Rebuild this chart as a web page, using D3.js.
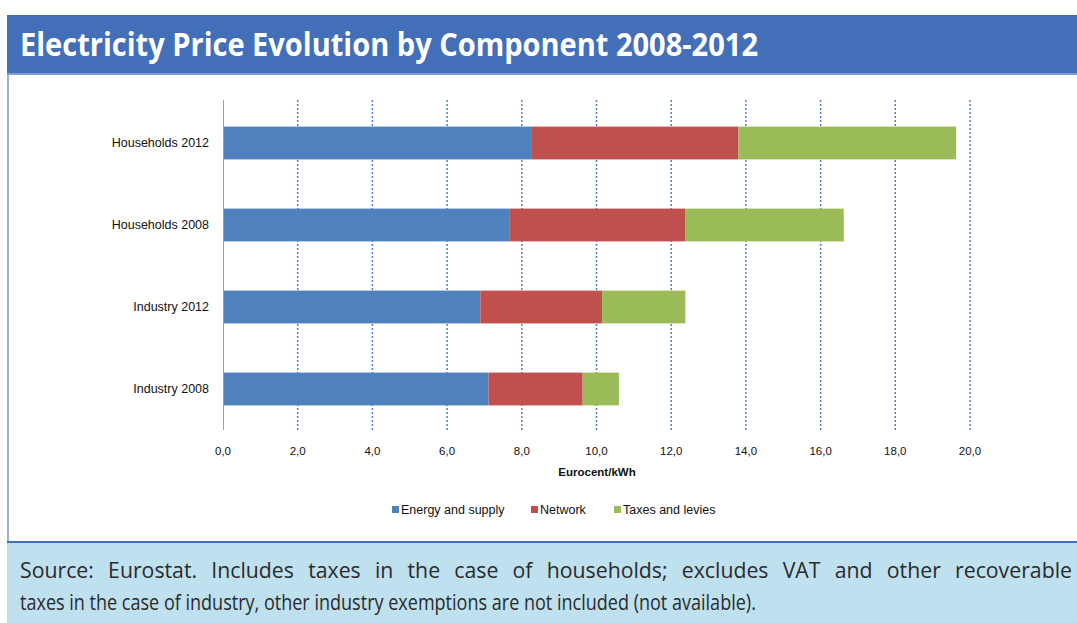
<!DOCTYPE html>
<html>
<head>
<meta charset="utf-8">
<script src="https://cdn.jsdelivr.net/npm/d3@7"></script>
<style>
  body { margin: 0; background: #fff; }
  svg { display: block; }
</style>
</head>
<body>
<script>
// values, Eurocent/kWh
const categories = ["Households 2012", "Households 2008", "Industry 2012", "Industry 2008"];
const seriesNames = ["Energy and supply", "Network", "Taxes and levies"];
const energy = [8.25, 7.68, 6.89, 7.11];
const network = [5.55, 4.69, 3.26, 2.52];
const taxes = [5.83, 4.25, 2.23, 0.97];
const tickValues = [0, 2, 4, 6, 8, 10, 12, 14, 16, 18, 20];
const colors = ["#4F81BD", "#C0504D", "#9BBB59"];

const W = 1077, H = 623;
const labelFont = "'Liberation Sans', Arial, sans-serif";

const svg = d3.select("body").append("svg")
    .attr("width", W)
    .attr("height", H);

// frame pieces
svg.append("rect").attr("x", 7).attr("y", 15).attr("width", W - 7).attr("height", 60)
    .attr("fill", "#436EB8");
svg.append("rect").attr("x", 7).attr("y", 73).attr("width", W - 7).attr("height", 2)
    .attr("fill", "#7F9FD6");
svg.append("rect").attr("x", 7).attr("y", 75).attr("width", 2).attr("height", 467)
    .attr("fill", "#98B2DE");
svg.append("rect").attr("x", 7).attr("y", 542).attr("width", W - 7).attr("height", H - 542)
    .attr("fill", "#BEE0EF");
svg.append("rect").attr("x", 7).attr("y", 541).attr("width", W - 7).attr("height", 2)
    .attr("fill", "#3F70BF");

svg.append("text")
    .attr("x", 20).attr("y", 56)
    .attr("font-family", "'Open Sans', sans-serif")
    .attr("font-weight", "bold")
    .attr("font-size", 33)
    .attr("fill", "#fff")
    .attr("textLength", 738)
    .attr("lengthAdjust", "spacingAndGlyphs")
    .text("Electricity Price Evolution by Component 2008-2012");

// chart
const x = d3.scaleLinear().domain([0, 20]).range([223, 970]);
const y = d3.scaleBand().domain(categories).range([102, 430]).paddingInner(0.6).paddingOuter(0.3);

const stackData = categories.map((c, i) => ({ cat: c, e: energy[i], n: network[i], t: taxes[i] }));
const stack = d3.stack().keys(["e", "n", "t"])(stackData);

// dotted gridlines
svg.append("g")
    .selectAll("line")
    .data(tickValues.slice(1))
    .enter()
    .append("line")
    .attr("x1", d => x(d)).attr("x2", d => x(d))
    .attr("y1", 100).attr("y2", 430)
    .attr("stroke", "#4F81BD")
    .attr("stroke-width", 1.5)
    .attr("stroke-dasharray", "2,2");

const layer = svg.append("g")
    .selectAll("g")
    .data(stack)
    .enter()
    .append("g")
    .attr("fill", (d, i) => colors[i]);

layer.selectAll("rect")
    .data(d => d)
    .enter()
    .append("rect")
    .attr("x", d => x(d[0]))
    .attr("width", d => x(d[1]) - x(d[0]))
    .attr("y", d => y(d.data.cat))
    .attr("height", y.bandwidth());

// y axis line
svg.append("line")
    .attr("x1", 223.5).attr("x2", 223.5)
    .attr("y1", 100).attr("y2", 430)
    .attr("stroke", "#A0A0A0");

svg.append("g")
    .selectAll("text")
    .data(categories)
    .enter()
    .append("text")
    .attr("x", 209)
    .attr("y", d => y(d) + y.bandwidth() / 2)
    .attr("dy", "0.35em")
    .attr("text-anchor", "end")
    .attr("font-family", labelFont)
    .attr("font-size", 12.5)
    .attr("fill", "#111")
    .text(d => d);

// x axis labels
const fmt = d => d.toFixed(1).replace(".", ",");
svg.append("g")
    .selectAll("text")
    .data(tickValues)
    .enter()
    .append("text")
    .attr("x", d => x(d))
    .attr("y", 455)
    .attr("text-anchor", "middle")
    .attr("font-family", labelFont)
    .attr("font-size", 11.5)
    .attr("fill", "#111")
    .text(fmt);

svg.append("text")
    .attr("x", 597).attr("y", 476)
    .attr("text-anchor", "middle")
    .attr("font-family", labelFont)
    .attr("font-weight", "bold")
    .attr("font-size", 11.5)
    .attr("fill", "#111")
    .text("Eurocent/kWh");

// legend
const legendX = [392, 531, 614];
const legend = svg.append("g")
    .selectAll("g")
    .data(seriesNames)
    .enter()
    .append("g")
    .attr("transform", (d, i) => "translate(" + legendX[i] + ",510)");

legend.append("rect")
    .attr("x", 0).attr("y", -4)
    .attr("width", 7).attr("height", 7)
    .attr("fill", (d, i) => colors[i]);

legend.append("text")
    .attr("x", 9)
    .attr("y", 0)
    .attr("dy", "0.35em")
    .attr("font-family", labelFont)
    .attr("font-size", 12.5)
    .attr("fill", "#111")
    .text(d => d);

// footer note; the source paragraph is justified, so line 1 is spread wider
const note = [
    "Source: Eurostat. Includes taxes in the case of households; excludes VAT and other recoverable",
    "taxes in the case of industry, other industry exemptions are not included (not available)."
];
const noteText = svg.append("g")
    .selectAll("text")
    .data(note)
    .enter()
    .append("text")
    .attr("x", 0)
    .attr("y", 0)
    .attr("font-family", "'Open Sans', sans-serif")
    .attr("font-size", 22)
    .attr("fill", "#2b2b2b")
    .text(d => d);
const nodes = noteText.nodes();
const len2 = nodes[1].getComputedTextLength();
const sx = 736 / len2;
const sx1 = sx * 1.18;
d3.select(nodes[1]).attr("transform", "translate(20,610) scale(" + sx + ",1)");
d3.select(nodes[0]).attr("transform", "translate(20,578) scale(" + sx1 + ",1)");
const len1 = nodes[0].getComputedTextLength();
const gaps = note[0].split(" ").length - 1;
d3.select(nodes[0]).attr("word-spacing", Math.max(0, (1052 / sx1 - len1) / gaps));
</script>
</body>
</html>
